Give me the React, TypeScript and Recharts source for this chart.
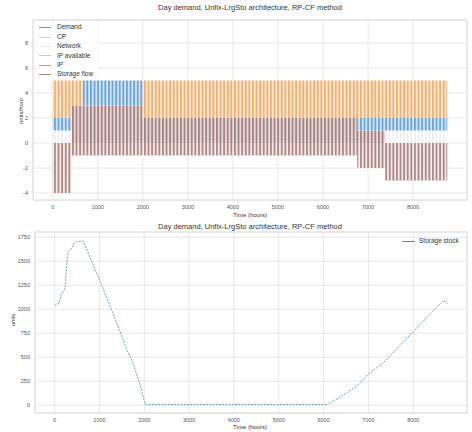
import React from 'react';
import {
  ComposedChart, Area, Line, XAxis, YAxis, CartesianGrid, ReferenceArea
} from 'recharts';

// top panel: flow bands, step changes at these hours
const flowHours = [0, 420, 660, 2000, 6760, 7380, 8760];
const ipFlow = [0, 3, 3, 2, 1, 0, 0];
const networkFlow = [1, 0, 0, 0, 0, 1, 1];
const demandFlow = [1, 0, 2, 0, 1, 1, 1];
const cpFlow = [3, 2, 0, 3, 3, 3, 3];
const ipAvailableFlow = [0, 0, 0, 0, 0, 0, 0];
const storageFlow = [-4, -1, -1, -1, -2, -3, -3];

// bottom panel: storage stock
const stockHours = [0, 100, 150, 230, 260, 300, 380, 440, 500, 640, 700, 1000, 1300, 1500, 1600, 1750, 1900, 2020, 2100, 3000, 4000, 5000, 6080, 6400, 6740, 6985, 7370, 7985, 8667, 8760];
const stockUnits = [1040, 1065, 1160, 1210, 1420, 1590, 1640, 1690, 1708, 1708, 1640, 1310, 960, 720, 590, 440, 220, 10, 8, 8, 8, 8, 8, 95, 200, 320, 460, 760, 1090, 1060];

const hourTicks = [0, 1000, 2000, 3000, 4000, 5000, 6000, 7000, 8000];
const flowTicks = [-4, -2, 0, 2, 4, 6, 8];
const stockTicks = [0, 250, 500, 750, 1000, 1250, 1500, 1750];

const legendNames = ['Demand', 'CP', 'Network', 'IP available', 'IP', 'Storage flow'];
const legendColors = ['#5b8db6', '#f3c391', '#e6e6e6', '#e8b5bd', '#a596ae', '#957a77'];

const TITLE = 'Day demand, Unfix-LrgSto architecture, RP-CF method';
const FONT = '"Liberation Sans", Arial, sans-serif';

const flowData = flowHours.map((h, i) => ({
  hour: h,
  ip: ipFlow[i],
  network: networkFlow[i],
  demand: demandFlow[i],
  cp: cpFlow[i],
  ipAvailable: ipAvailableFlow[i],
  storage: storageFlow[i],
}));

const stockData = stockHours.map((h, i) => ({ hour: h, stock: stockUnits[i] }));

const stripes: { id: string; stripe: string; gap: string }[] = [
  { id: 'pCP', stripe: '#efb272', gap: '#fbe9d6' },
  { id: 'pDemand', stripe: '#6aa7d8', gap: '#d8e8f4' },
  { id: 'pNetwork', stripe: '#efefef', gap: '#ffffff' },
  { id: 'pIP', stripe: '#a78482', gap: '#e9dede' },
  { id: 'pIPAvail', stripe: '#e6a8b0', gap: '#f8e6e8' },
  { id: 'pStorage', stripe: '#ae8985', gap: '#f5eeee' },
];

const tickStyle = { fontSize: 5.5, fill: '#555', fontFamily: FONT };

const label = (text: string, left: number, top: number, size: number, rotate = false) => (
  <div
    style={{
      position: 'absolute', left, top, fontSize: size, fontFamily: FONT, color: '#333',
      whiteSpace: 'nowrap', transform: `translate(-50%, -50%)${rotate ? ' rotate(-90deg)' : ''}`,
      lineHeight: 1,
    }}
  >
    {text}
  </div>
);

const App: React.FC = () => {
  return (
    <div style={{ position: 'absolute', left: 0, top: 0, width: 472, height: 432, background: '#fff' }}>
      <div style={{ position: 'absolute', left: 0, top: 0 }}>
        <ComposedChart width={472} height={220} data={flowData} stackOffset="sign"
          margin={{ top: 20, right: 5, left: 0, bottom: 0 }}>
          <defs>
            {stripes.map((s) => (
              <pattern key={s.id} id={s.id} patternUnits="userSpaceOnUse" width={3.6} height={10}>
                <rect width={3.6} height={10} fill={s.gap} />
                <rect width={1.9} height={10} fill={s.stripe} />
              </pattern>
            ))}
          </defs>
          <CartesianGrid stroke="#e2e2e2" strokeWidth={0.8} />
          <XAxis dataKey="hour" type="number" domain={[-438, 9198]} ticks={hourTicks}
            tick={tickStyle} tickLine={false} axisLine={false} tickSize={3} height={20} />
          <YAxis type="number" domain={[-4.56, 9.84]} ticks={flowTicks} tick={tickStyle}
            tickLine={false} axisLine={false} tickSize={3} width={33} />
          <Area type="stepAfter" dataKey="ip" stackId="f" stroke="none" fill="url(#pIP)" fillOpacity={1} isAnimationActive={false} />
          <Area type="stepAfter" dataKey="network" stackId="f" stroke="none" fill="url(#pNetwork)" fillOpacity={1} isAnimationActive={false} />
          <Area type="stepAfter" dataKey="demand" stackId="f" stroke="none" fill="url(#pDemand)" fillOpacity={1} isAnimationActive={false} />
          <Area type="stepAfter" dataKey="cp" stackId="f" stroke="none" fill="url(#pCP)" fillOpacity={1} isAnimationActive={false} />
          <Area type="stepAfter" dataKey="ipAvailable" stackId="f" stroke="none" fill="url(#pIPAvail)" fillOpacity={1} isAnimationActive={false} />
          <Area type="stepAfter" dataKey="storage" stackId="f" stroke="none" fill="url(#pStorage)" fillOpacity={1} isAnimationActive={false} />
          <ReferenceArea x1={-438} x2={9198} y1={-4.56} y2={9.84} fill="none" stroke="#d8d8d8" strokeWidth={0.8} ifOverflow="visible" />
        </ComposedChart>
      </div>

      <div style={{ position: 'absolute', left: 36, top: 23, width: 62, background: 'rgba(255,255,255,0.85)', fontFamily: FONT, fontSize: 6.5, color: '#333' }}>
        {legendNames.map((n, i) => (
          <div key={n} style={{ height: 9.4, display: 'flex', alignItems: 'center' }}>
            <svg width={18} height={5} style={{ marginLeft: 3 }}>
              <line x1={0} y1={2.5} x2={12} y2={2.5} stroke={legendColors[i]} strokeWidth={0.9} />
            </svg>
            <span style={{ lineHeight: 1 }}>{n}</span>
          </div>
        ))}
      </div>

      <div style={{ position: 'absolute', left: 0, top: 220 }}>
        <ComposedChart width={472} height={212} data={stockData}
          margin={{ top: 12, right: 5, left: 0, bottom: 0 }}>
          <CartesianGrid stroke="#e2e2e2" strokeWidth={0.8} />
          <XAxis dataKey="hour" type="number" domain={[-438, 9198]} ticks={hourTicks}
            tick={tickStyle} tickLine={false} axisLine={false} tickSize={3} height={19} />
          <YAxis type="number" domain={[-80, 1805]} ticks={stockTicks} tick={tickStyle}
            tickLine={false} axisLine={false} tickSize={3} width={35} />
          <Line type="linear" dataKey="stock" stroke="#5a97c2" strokeWidth={0.9} strokeDasharray="2 1.2"
            dot={false} isAnimationActive={false} />
          <ReferenceArea x1={-438} x2={9198} y1={-80} y2={1805} fill="none" stroke="#d8d8d8" strokeWidth={0.8} ifOverflow="visible" />
        </ComposedChart>
      </div>

      <div style={{ position: 'absolute', left: 401, top: 238, display: 'flex', alignItems: 'center', fontFamily: FONT, fontSize: 6.5, color: '#333' }}>
        <svg width={18} height={5}>
          <line x1={1} y1={2.5} x2={14} y2={2.5} stroke="#3d7ea8" strokeWidth={0.9} />
        </svg>
        <span style={{ lineHeight: 1 }}>Storage stock</span>
      </div>

      {label(TITLE, 250, 8, 7.5)}
      {label('Time (hours)', 250, 215, 6)}
      {label('units/hour', 21, 111, 6, true)}
      {label(TITLE, 250, 227, 7.5)}
      {label('Time (hours)', 250, 427, 6)}
      {label('units', 13, 320, 6, true)}
    </div>
  );
};

export default App;
